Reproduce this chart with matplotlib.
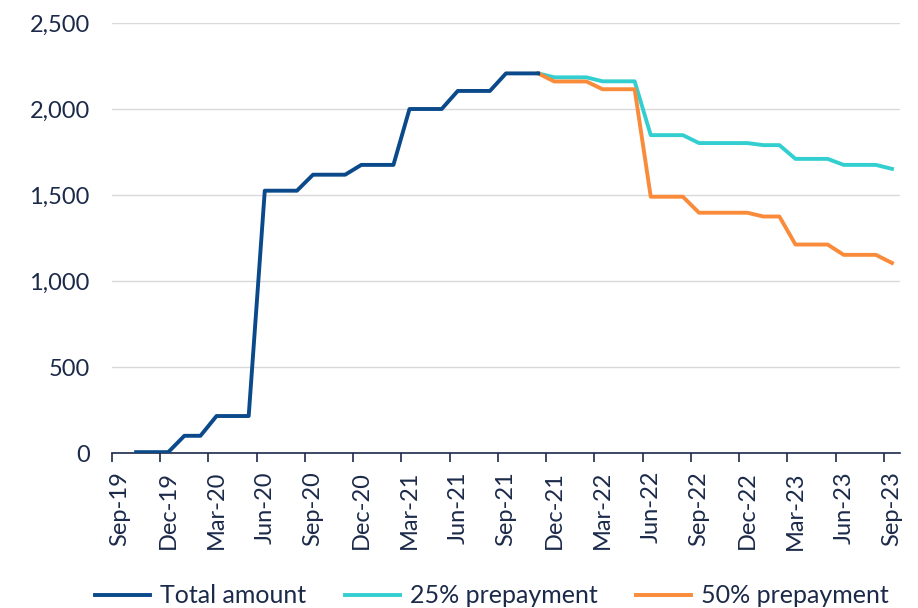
import matplotlib
matplotlib.use("Agg")
import matplotlib.pyplot as plt
from matplotlib.ticker import FuncFormatter, FixedLocator
import numpy as np

# monthly categories Sep-19 .. Sep-23
months = ["Sep-19", "Oct-19", "Nov-19", "Dec-19", "Jan-20", "Feb-20", "Mar-20", "Apr-20", "May-20",
          "Jun-20", "Jul-20", "Aug-20", "Sep-20", "Oct-20", "Nov-20", "Dec-20", "Jan-21", "Feb-21",
          "Mar-21", "Apr-21", "May-21", "Jun-21", "Jul-21", "Aug-21", "Sep-21", "Oct-21", "Nov-21",
          "Dec-21", "Jan-22", "Feb-22", "Mar-22", "Apr-22", "May-22", "Jun-22", "Jul-22", "Aug-22",
          "Sep-22", "Oct-22", "Nov-22", "Dec-22", "Jan-23", "Feb-23", "Mar-23", "Apr-23", "May-23",
          "Jun-23", "Jul-23", "Aug-23", "Sep-23"]

N = None
total_amount = [N, 5, 5, 5, 100, 100, 215, 215, 215,
                1525, 1525, 1525, 1618, 1618, 1618, 1675, 1675, 1675,
                2000, 2000, 2000, 2105, 2105, 2105, 2207, 2207, 2207,
                N, N, N, N, N, N, N, N, N,
                N, N, N, N, N, N, N, N, N,
                N, N, N, N]
prepay_25 = [N] * 26 + [2207, 2184, 2184, 2184, 2161, 2161, 2161, 1848, 1848, 1848,
                        1802, 1802, 1802, 1802, 1790, 1790, 1710, 1710, 1710,
                        1675, 1675, 1675, 1652]
prepay_50 = [N] * 26 + [2207, 2160, 2160, 2160, 2115, 2115, 2115, 1490, 1490, 1490,
                        1397, 1397, 1397, 1397, 1375, 1375, 1212, 1212, 1212,
                        1152, 1152, 1152, 1105]

TEXT = "#1c2a4a"
NAVY = "#0a4a8a"
CYAN = "#33cfd0"
ORANGE = "#f98b3a"

plt.rcParams["font.family"] = ["Lato", "DejaVu Sans"]

fig = plt.figure(figsize=(9.18, 6.08), dpi=100)
ax = fig.add_axes([112 / 918, 155 / 608, 788 / 918, 430 / 608])

x = np.arange(len(months))
def arr(v):
    return np.array([np.nan if a is None else a for a in v], dtype=float)

ax.plot(x, arr(total_amount), color=NAVY, lw=2.8, label="Total amount", zorder=3)
ax.plot(x, arr(prepay_25), color=CYAN, lw=2.8, label="25% prepayment", zorder=2)
ax.plot(x, arr(prepay_50), color=ORANGE, lw=2.8, label="50% prepayment", zorder=2)

ax.set_xlim(-0.5, len(months) - 0.5)
ax.set_ylim(0, 2500)
ax.set_yticks([0, 500, 1000, 1500, 2000, 2500])
ax.yaxis.set_major_formatter(FuncFormatter(lambda v, _: f"{int(v):,}"))
ax.grid(axis="y", color="#d9d9d9", lw=1.0)
ax.set_axisbelow(True)

# ticks on category boundaries, labels on category centres
ax.xaxis.set_major_locator(FixedLocator(np.arange(-0.5, len(months), 3)))
ax.xaxis.set_major_formatter(FuncFormatter(lambda v, _: ""))
ax.xaxis.set_minor_locator(FixedLocator(np.arange(0, len(months), 3)))
ax.set_xticklabels([months[i] for i in range(0, len(months), 3)], minor=True, rotation=90)
ax.tick_params(axis="x", which="major", direction="out", length=6.5, width=1.2, color=TEXT)
ax.tick_params(axis="x", which="minor", length=0, pad=13, labelsize=17, labelcolor=TEXT)
ax.tick_params(axis="y", length=0, pad=16, labelsize=17, labelcolor=TEXT)

for s in ("top", "right", "left"):
    ax.spines[s].set_visible(False)
ax.spines["bottom"].set_color(TEXT)
ax.spines["bottom"].set_linewidth(1.2)

fig.legend(loc="center", bbox_to_anchor=(0.536, 0.02), ncol=3, frameon=False,
           fontsize=18, labelcolor=TEXT, handlelength=2.2, columnspacing=1.55, handletextpad=0.4)

fig.savefig("out.png", dpi=100, facecolor="white")
